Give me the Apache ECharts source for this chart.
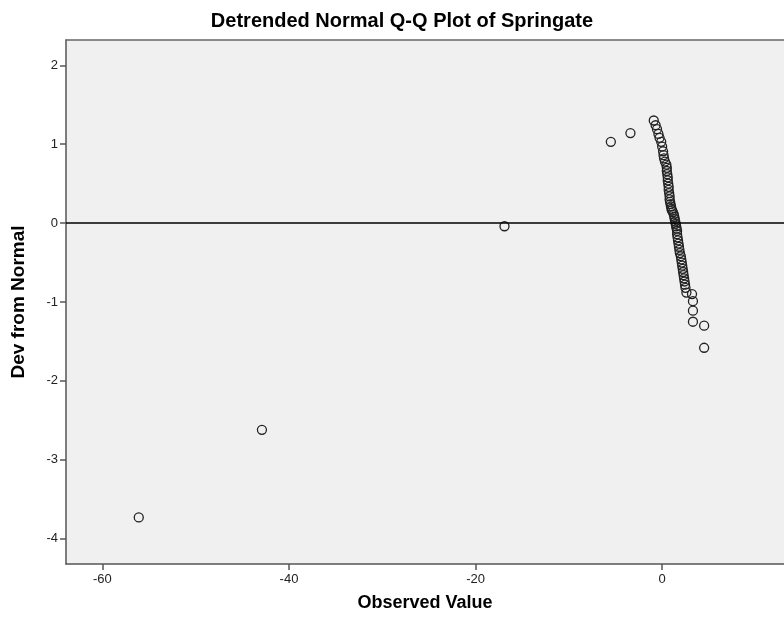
<!DOCTYPE html>
<html>
<head>
<meta charset="utf-8">
<script src="https://cdn.jsdelivr.net/npm/echarts@6/dist/echarts.min.js"></script>
<style>
html,body{margin:0;padding:0;background:#fff;}
#chart{width:784px;height:628px;}
</style>
</head>
<body>
<div id="chart"></div>
<script>
// Observed values (x) and deviation from normal (y)
var observed = [-56.1, -42.9, -16.9, -5.5, -3.4,
  -0.9, -0.7, -0.55, -0.4, -0.28, -0.1, 0.0, 0.1, 0.15, 0.2, 0.3, 0.45, 0.5, 0.5, 0.55, 0.6, 0.6, 0.65, 0.7, 0.7,
  0.75, 0.8, 0.8, 0.85, 0.9, 0.95, 1.0, 1.05, 1.15, 1.25, 1.3, 1.35, 1.4, 1.45, 1.5, 1.55, 1.6, 1.6, 1.65, 1.7,
  1.75, 1.8, 1.85, 1.9, 2.0, 2.05, 2.1, 2.15, 2.2, 2.25, 2.3, 2.35, 2.4, 2.45, 2.5, 2.6, 3.2, 3.3, 3.3, 3.3, 4.5, 4.5];
var devFromNormal = [-3.73, -2.62, -0.04, 1.03, 1.14,
  1.30, 1.24, 1.19, 1.13, 1.08, 1.03, 0.97, 0.91, 0.86, 0.82, 0.78, 0.74, 0.70, 0.66, 0.62, 0.58, 0.54, 0.50, 0.46, 0.42,
  0.38, 0.34, 0.30, 0.27, 0.24, 0.21, 0.18, 0.16, 0.14, 0.11, 0.08, 0.05, 0.02, -0.01, -0.04, -0.07, -0.10, -0.14, -0.18, -0.22,
  -0.26, -0.30, -0.34, -0.38, -0.42, -0.46, -0.50, -0.54, -0.58, -0.62, -0.66, -0.70, -0.74, -0.78, -0.82, -0.88, -0.90, -0.99, -1.11, -1.25, -1.30, -1.58];
var xTicks = [-60, -40, -20, 0];
var yTicks = [-4, -3, -2, -1, 0, 1, 2];

var pts = observed.map(function (v, i) { return [v, devFromNormal[i]]; });
var font = "'Liberation Sans', Arial, sans-serif";
var xMin = -63.9, xMax = 13.06;

var chart = echarts.init(document.getElementById('chart'), null, {renderer: 'canvas'});
chart.setOption({
  animation: false,
  backgroundColor: '#ffffff',
  title: {
    text: 'Detrended Normal Q-Q Plot of Springate',
    left: 397, top: 6, textAlign: 'center',
    textStyle: {fontFamily: font, fontSize: 20, fontWeight: 'bold', color: '#000'}
  },
  grid: {
    left: 66, top: 40, right: 0, height: 524,
    show: true, backgroundColor: '#f0f0f0', borderWidth: 0
  },
  xAxis: [{
    type: 'value', min: xMin, max: xMax,
    name: 'Observed Value', nameLocation: 'middle', nameGap: 30,
    nameTextStyle: {fontFamily: font, fontSize: 18, fontWeight: 'bold', color: '#000'},
    axisLine: {show: true, onZero: false, lineStyle: {color: '#555', width: 1.5}},
    axisTick: {show: true, inside: false, length: 6, customValues: xTicks, lineStyle: {color: '#555', width: 1.5}},
    axisLabel: {customValues: xTicks, fontFamily: font, fontSize: 13, color: '#222', margin: 9},
    splitLine: {show: false}
  }, {
    type: 'value', min: xMin, max: xMax, position: 'top',
    axisLine: {show: true, onZero: false, lineStyle: {color: '#666', width: 1.5}},
    axisTick: {show: false}, axisLabel: {show: false}, splitLine: {show: false}
  }],
  yAxis: {
    type: 'value', min: -4.32, max: 2.32,
    name: 'Dev from Normal', nameLocation: 'middle', nameGap: 38, nameRotate: 90,
    nameTextStyle: {fontFamily: font, fontSize: 19, fontWeight: 'bold', color: '#000'},
    axisLine: {show: true, onZero: false, lineStyle: {color: '#555', width: 1.5}},
    axisTick: {show: true, inside: false, length: 6, customValues: yTicks, lineStyle: {color: '#555', width: 1.5}},
    axisLabel: {customValues: yTicks, fontFamily: font, fontSize: 13, color: '#222', margin: 8},
    splitLine: {show: false}
  },
  series: [{
    type: 'scatter',
    data: pts,
    symbol: 'circle',
    symbolSize: 9,
    itemStyle: {color: 'rgba(0,0,0,0)', borderColor: '#222', borderWidth: 1.3, opacity: 1},
    markLine: {
      silent: true, symbol: 'none', label: {show: false},
      lineStyle: {color: '#000', width: 1.5, type: 'solid'},
      data: [{yAxis: 0}]
    }
  }]
});
</script>
</body>
</html>
